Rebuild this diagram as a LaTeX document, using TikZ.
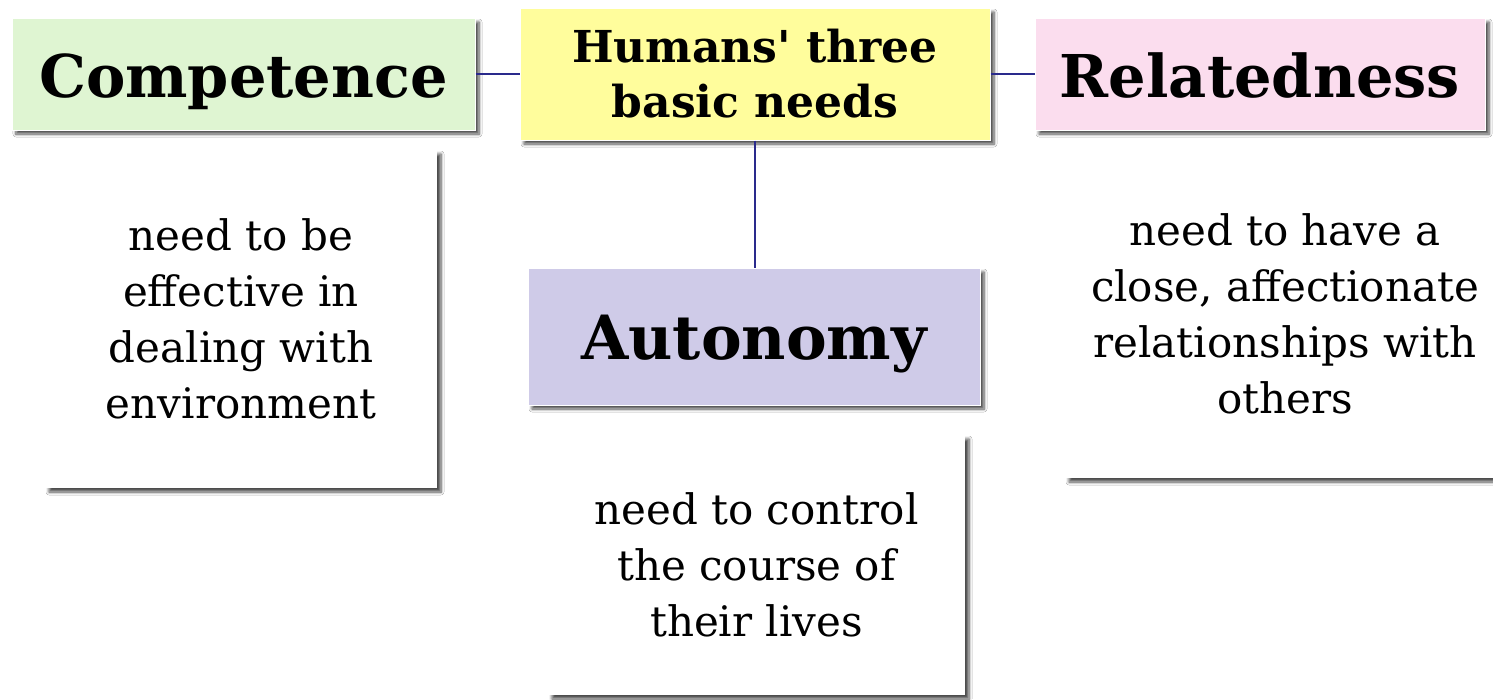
\documentclass[tikz,border=0pt]{standalone}
\usepackage{fontspec}
\setmainfont{DejaVu Serif}
\usetikzlibrary{shadows,shadows.blur}
\definecolor{cgreen}{HTML}{DFF5D2}
\definecolor{cyellow}{HTML}{FFFD9C}
\definecolor{cpink}{HTML}{FBDDEE}
\definecolor{clav}{HTML}{CFCBE8}
\definecolor{cline}{HTML}{2A2A8C}
\tikzset{
  shad/.style={blur shadow={shadow xshift=4pt,shadow yshift=-4pt,shadow blur radius=3pt,shadow blur steps=6,shadow opacity=70}},
  titlebox/.style={shad,draw=white,line width=1pt,rectangle,inner sep=0pt,align=center,text height=46pt,text depth=0pt,font=\fontsize{59}{62}\selectfont\bfseries},
  hubbox/.style={shad,draw=white,line width=1pt,fill=cyellow,rectangle,inner sep=0pt,align=center,font=\fontsize{44}{55}\selectfont\bfseries},
  descbox/.style={shad,fill=white,rectangle,inner sep=0pt,align=center,font=\fontsize{42}{56}\selectfont},
  conn/.style={draw=cline,line width=1.6pt}
}
\begin{document}
\begin{tikzpicture}[x=1pt,y=-1pt]
\useasboundingbox (0,0) rectangle (1493,699);
\fill[white] (0,0) rectangle (1493,699);
\node[descbox,minimum width=392pt,minimum height=338pt] (cdesc) at (241,319) {need to be\\effective in\\dealing with\\environment};
\node[descbox,minimum width=417pt,minimum height=260pt] (adesc) at (756.5,565) {need to control\\the course of\\their lives};
\node[descbox,minimum width=440pt,minimum height=328pt] (rdesc) at (1285,314) {need to have a\\close, affectionate\\relationships with\\others};
\node[titlebox,fill=cgreen,minimum width=463pt,minimum height=112pt] (comp) at (243.5,74) {Competence};
\node[hubbox,minimum width=470pt,minimum height=132pt] (hub) at (755,74) {Humans\textquotesingle\ three\\basic needs};
\node[titlebox,fill=cpink,minimum width=450pt,minimum height=112pt] (rel) at (1260,74) {Relatedness};
\node[titlebox,fill=clav,minimum width=452pt,minimum height=137pt,font=\fontsize{61}{64}\selectfont\bfseries] (auto) at (754,336.5) {Autonomy};
\draw[conn] (comp.east) -- (hub.west);
\draw[conn] (hub.east) -- (rel.west);
\draw[conn] (hub.south) -- (hub.south |- auto.north);
\end{tikzpicture}
\end{document}
